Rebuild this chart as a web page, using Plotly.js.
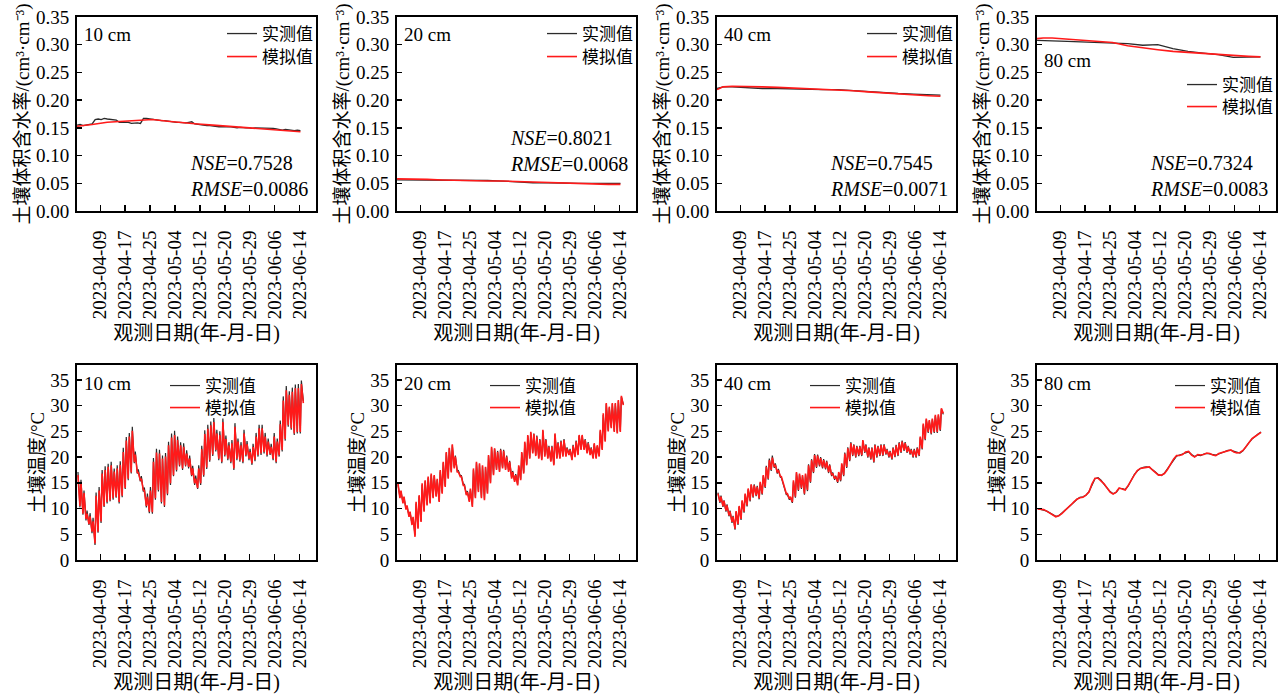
<!DOCTYPE html>
<html><head><meta charset="utf-8">
<script src="https://cdn.plot.ly/plotly-3.0.1.min.js"></script>
<style>html,body{margin:0;padding:0;background:#fff}</style>
</head><body>
<div id="chart" style="width:1282px;height:695px"></div>
<script>
// ---------------- data ----------------
const depths = ['10 cm', '20 cm', '40 cm', '80 cm'];
const obsName = '实测值';
const simName = '模拟值';
const tickLabels = ['2023-04-09','2023-04-17','2023-04-25','2023-05-04','2023-05-12','2023-05-20','2023-05-29','2023-06-06','2023-06-14'];
const nseVals = ['0.7528', '0.8021', '0.7545', '0.7324'];
const rmseVals = ['0.0086', '0.0068', '0.0071', '0.0083'];
const startDate = '2023-04-01';

// soil moisture (cm3/cm3), day offsets from 2023-04-01
const moistDays = [0,2,5,10,15,20,25,30,35,40,45,50,55,60,65,70,74];
const moistObs10 = [0.155,0.156,0.154,0.155,0.156,0.157,0.165,0.166,0.165,0.167,0.166,0.165,0.165,0.164,0.160,0.160,0.159,0.160,0.158,0.159,0.159,0.158,0.167,0.167,0.166,0.166,0.165,0.164,0.163,0.163,0.162,0.161,0.161,0.160,0.160,0.159,0.159,0.160,0.161,0.157,0.156,0.155,0.155,0.154,0.154,0.153,0.153,0.152,0.152,0.152,0.153,0.152,0.151,0.150,0.151,0.150,0.150,0.150,0.149,0.150,0.150,0.149,0.149,0.150,0.150,0.149,0.148,0.147,0.146,0.147,0.146,0.146,0.145,0.146,0.145];
const moistSim10 = [0.153,0.154,0.156,0.160,0.162,0.164,0.165,0.162,0.159,0.157,0.155,0.153,0.151,0.149,0.147,0.145,0.143];
const moistObs20 = [0.056,0.056,0.056,0.056,0.055,0.055,0.056,0.055,0.054,0.052,0.051,0.051,0.050,0.050,0.050,0.050,0.050];
const moistSim20 = [0.058,0.058,0.058,0.057,0.056,0.055,0.055,0.054,0.054,0.053,0.052,0.051,0.050,0.050,0.049,0.048,0.048];
const moistObs40 = [0.221,0.224,0.224,0.222,0.221,0.221,0.220,0.219,0.219,0.219,0.217,0.215,0.213,0.212,0.211,0.210,0.209];
const moistSim40 = [0.219,0.224,0.225,0.225,0.224,0.223,0.222,0.220,0.219,0.218,0.217,0.215,0.213,0.212,0.210,0.208,0.207];
const moistObs80 = [0.308,0.308,0.307,0.306,0.305,0.304,0.304,0.302,0.299,0.300,0.293,0.288,0.285,0.282,0.277,0.277,0.278];
const moistSim80 = [0.311,0.312,0.312,0.310,0.308,0.307,0.304,0.298,0.294,0.291,0.288,0.286,0.285,0.283,0.281,0.279,0.278];

// soil temperature (°C): daily maxima and following minima, 2023-04-01 .. 2023-06-14
const tempSimMax10 = [16.5,15,13,9,8.5,7.5,12.5,13.5,16.8,17.5,18.1,18.4,17.2,17.8,18.5,21,23.2,24,25.1,20.5,17,15.8,13.5,12.3,13.5,19.1,20.9,20.7,19.7,20.1,22.3,23.8,24.3,23.3,22.3,22,20.7,19.7,17.8,15.8,17.8,21.5,24.5,25.5,26.2,26.8,24.6,24.3,26.8,23.5,22.3,22.7,25.9,23,22.3,24.6,22.5,21,22,24,25.6,25.6,24,23,22,24,23,26.4,31,33,32.1,32.7,33.4,33.4,34.2];
const tempSimMin10 = [10.5,9,8,7,5.5,3.2,5.5,7.5,10.5,11.3,11.6,12,12.3,11.3,12.5,14,15.8,17,19,17,15.5,13.6,10.5,9.4,9.3,12,13.6,11.3,10.6,12.9,14.9,16.5,17.5,18.4,17.8,18.4,18.1,16.5,14.9,14,14.9,16.5,18,19.4,20.5,21.4,19.7,19.1,20.4,19.7,19.1,17.8,19.7,19.4,19.1,20.4,19.7,18.8,19.5,20.4,20.7,21,20.4,20.7,19.7,19.1,20.4,21.4,23.5,26.2,25.6,24.6,24.9,24.9,30.5];
const tempObsMax10 = [17.1,15.6,13.5,9.6,9.1,8.2,13.1,14.2,17.5,18.2,18.7,19.1,17.8,18.4,19.2,21.8,23.9,24.7,25.9,21.1,17.6,16.3,14.1,12.9,14.2,19.8,21.6,21.4,20.3,20.8,23,24.6,25.1,24,22.9,22.7,21.3,20.3,18.3,16.4,18.4,22.2,25.2,26.3,26.9,27.6,25.3,25,27.5,24.2,22.9,23.3,26.6,23.6,22.9,25.3,23.1,21.6,22.6,24.7,26.3,26.3,24.7,23.6,22.6,24.7,23.6,27.1,31.8,33.8,32.8,33.5,34.1,34.2,34.9];
const tempObsMin10 = [10.2,8.8,7.7,6.8,5.2,2.9,5.3,7.2,10.3,11,11.4,11.7,12.1,11,12.2,13.8,15.5,16.8,18.8,16.8,15.3,13.3,10.2,9.1,9,11.7,13.3,11,10.3,12.6,14.6,16.3,17.2,18.2,17.5,18.2,17.8,16.3,14.6,13.8,14.6,16.2,17.7,19.1,20.2,21.1,19.4,18.8,20.1,19.4,18.8,17.5,19.4,19.1,18.8,20.1,19.4,18.5,19.2,20.1,20.4,20.7,20.1,20.4,19.4,18.8,20.1,21.1,23.2,25.9,25.3,24.3,24.6,24.6,30.9];

const tempSimMax20 = [14.9,13.5,12.3,10.6,9.4,8.4,11.3,12.6,14.9,15.5,16.2,16.8,16.5,15.8,17.5,19.1,21,21.8,22.5,20.1,17.1,16.2,14.5,13.2,13.9,17.8,19.1,18.8,18.4,18.1,20.4,22,21.7,21,21.4,21.2,20.1,19.1,17.1,16.5,18.4,21,23,24.3,24.9,24.5,24,23.3,25.3,23.3,22,22,24.6,22.7,23,23.3,21.7,21.4,22.2,23,24.3,24.3,23.3,22.7,21.7,22.7,22.3,25.3,28.5,30.5,29.8,30.5,30.5,31.1,31.9];
const tempSimMin20 = [12,11,9.8,8.4,6.8,4.5,6.1,7.4,9.4,10.6,11,12,12.3,11.3,12.9,14.2,15.8,17,17.8,17.1,16.2,14.5,12.6,11.3,10.3,12,13.2,12,11.6,12.9,14.9,16.5,17.5,17.1,17.8,17.5,17.1,15.8,15.2,14.5,15.5,16.8,18.4,19.7,20.7,20.2,19.7,19.4,20.1,19.7,19.1,18.4,19.7,19.7,20.1,20.1,20.4,19.4,20,20.4,21.4,21.4,20.7,20.4,19.7,19.7,20.1,21.4,23,25,25.6,24.9,24.6,24.9,30.1];
const tempObsMax20 = [14.7,13.3,12.1,10.4,9.3,8.2,11.0,12.4,14.6,15.3,16.0,16.5,16.3,15.6,17.2,18.9,20.8,21.7,22.3,20.3,17.4,16.4,14.7,13.4,13.7,17.5,18.9,18.6,18.2,18.0,20.2,21.8,21.6,21.2,21.6,21.4,20.3,19.3,17.3,16.7,18.2,20.8,22.8,24.1,24.7,24.6,24.2,23.5,25.1,23.5,22.2,22.2,24.4,22.9,23.2,23.5,21.9,21.6,22.4,23.2,24.1,24.1,23.5,22.9,21.9,22.5,22.1,25.0,28.2,30.3,29.6,30.3,30.3,30.9,31.7];
const tempObsMin20 = [12.2,11.2,10.0,8.6,7.0,4.8,6.3,7.6,9.6,10.8,11.2,12.2,12.5,11.5,13.1,14.4,16.0,17.2,18.0,17.3,16.4,14.7,12.8,11.5,10.5,12.2,13.4,12.2,11.8,13.1,15.1,16.7,17.7,17.3,18.0,17.7,17.3,16.0,15.4,14.7,15.7,17.0,18.6,19.9,20.9,20.4,19.9,19.6,20.3,19.9,19.3,18.6,19.9,19.9,20.3,20.3,20.6,19.6,20.2,20.6,21.6,21.6,20.9,20.6,19.9,19.9,20.3,21.6,23.2,25.2,25.8,25.1,24.8,25.1,30.3];

const tempSimMax40 = [12.9,12.3,11.5,10.6,9.4,8.4,9.5,10.5,11.6,12.9,13.9,14.7,14.5,14.2,15.2,16.5,18.1,19.4,19.9,18.5,17.5,16.2,14.2,12.9,12.3,15.5,17.1,16.8,16.5,16.8,18.4,19.4,20.4,20.3,19.8,19.4,19.1,18.4,16.8,16.2,17.1,18.8,20.7,21.7,22.7,22.3,22,22,23.3,22.3,21.7,21.7,22.3,22,22.3,22.3,21.4,21,21.7,22.2,22.7,23,22.7,22,21.4,21.4,21.7,24,26.5,27.5,27.2,27.5,28.2,28.3,29.5];
const tempSimMin40 = [11.3,10.5,9.6,8.7,7.4,6.1,7,8,9.4,10.6,11.6,12.3,12.6,12,12.9,14.2,15.8,17.5,18.1,17,16.3,14.9,12.9,11.9,11.3,12.3,13.6,14,12.9,13.6,15.2,17.1,18.1,18.4,18,17.8,17.1,16.5,15.8,15.2,15.5,16.5,18.1,19.4,20.4,20.1,20.4,20.4,21,20.1,19.7,19.1,20.1,20.4,20.4,20.7,20.1,19.7,20.2,20.4,21,21.4,21,20.7,20.1,20.1,20.4,21.7,23.5,24.9,24.6,24.9,24.9,25.3,28.5];
const tempObsMax40 = [13.1,12.5,11.6,10.8,9.6,8.6,9.3,10.3,11.4,12.7,13.7,14.6,14.7,14.4,15.0,16.3,18.3,19.7,20.3,18.8,17.7,16.0,14.0,12.7,12.1,15.2,16.9,16.6,16.3,16.6,18.6,19.6,20.6,20.5,20.0,19.6,19.3,18.6,17.0,16.4,16.9,18.6,20.9,21.9,22.9,22.5,22.2,22.2,23.1,22.5,21.9,21.9,22.5,22.2,22.5,22.5,21.6,21.2,21.9,22.4,22.9,23.2,22.9,22.2,21.6,21.6,21.9,23.8,26.3,27.3,27.0,27.3,28.0,28.1,29.3];
const tempObsMin40 = [11.1,10.3,9.4,8.5,7.2,5.9,6.8,7.8,9.2,10.4,11.4,12.1,12.4,11.8,12.7,14.0,15.6,17.3,17.9,16.8,16.1,14.7,12.7,11.7,11.1,12.1,13.4,13.8,12.7,13.4,15.0,16.9,17.9,18.2,17.8,17.6,16.9,16.3,15.6,15.0,15.3,16.3,17.9,19.2,20.2,19.9,20.2,20.2,20.8,19.9,19.5,18.9,19.9,20.2,20.2,20.5,19.9,19.5,20.0,20.2,20.8,21.2,20.8,20.5,19.9,19.9,20.2,21.5,23.3,24.7,24.4,24.7,24.7,25.1,28.3];

// 80 cm: daily values
const tempSim80 = [9.9,9.9,9.8,9.5,9.1,8.7,8.4,8.6,9.0,9.6,10.1,10.7,11.3,11.8,12.1,12.2,12.6,13.2,14.8,15.9,15.9,15.4,14.8,14.0,13.2,12.8,13.2,14.0,13.8,13.6,14.5,15.6,16.5,17.4,17.8,17.9,18.0,18.1,17.5,17.0,16.5,16.5,16.8,17.6,18.7,19.6,20.3,20.3,20.5,21.0,21.1,20.4,20.0,20.5,20.4,20.5,20.8,20.7,20.4,20.3,20.7,20.9,21.0,21.2,21.4,21.0,20.8,20.9,21.3,22.0,22.9,23.6,24.0,24.4,24.8];
const tempObs80 = [10.0,9.9,9.7,9.5,9.2,8.8,8.5,8.6,9.1,9.6,10.2,10.7,11.2,11.8,12.2,12.3,12.6,13.3,14.7,15.8,16.0,15.5,14.7,13.9,13.3,12.9,13.1,13.9,13.9,13.7,14.4,15.5,16.6,17.3,17.8,18.0,18.1,18.0,17.6,17.1,16.6,16.4,16.9,17.7,18.6,19.5,20.2,20.4,20.6,20.9,21.0,20.5,20.1,20.4,20.3,20.6,20.7,20.6,20.5,20.4,20.6,20.8,21.1,21.3,21.3,21.1,20.9,20.8,21.2,22.1,22.8,23.5,24.1,24.5,24.9];

// ---------------- helpers ----------------
const DAY = 86400000;
const t0 = Date.parse(startDate + 'T00:00:00Z');
const dayMs = d => t0 + d * DAY;
function dailyX(n, frac) { const a = []; for (let i = 0; i < n; i++) a.push(dayMs(i + frac)); return a; }
function zigzag(maxArr, minArr) {
  const x = [], y = [];
  for (let i = 0; i < maxArr.length; i++) {
    x.push(dayMs(i + 0.6)); y.push(maxArr[i]);
    x.push(dayMs(i + 1.25)); y.push(minArr[i]);
  }
  return {x, y};
}

const OBS_C = '#2b2b2b', SIM_C = '#ff1a1a';
const FONT = 'Liberation Serif, "Times New Roman", "Noto Sans CJK SC", serif';
const CJK = 'Liberation Serif, "Noto Sans CJK SC", serif';

// geometry (pixels)
const W = 1282, H = 695;
const colLeft = [77, 397, 717, 1037], plotW = 239;
const rowBox = [{top: 17, bottom: 211}, {top: 365, bottom: 560}];

const tickBase = Date.parse('2023-04-09T00:00:00Z');
const tickVals = tickLabels.map((_, k) => tickBase + k * 8.25 * DAY);
const xRange = [tickBase - 7.72 * DAY, tickBase + 71.45 * DAY];

const traces = [];
const layout = {
  width: W, height: H,
  margin: {l: 0, r: 0, t: 0, b: 0},
  paper_bgcolor: '#fff', plot_bgcolor: '#fff',
  font: {family: FONT, size: 19, color: '#000'},
  showlegend: true,
  annotations: [],
  hovermode: false
};

const moistObs = [moistObs10, moistObs20, moistObs40, moistObs80];
const moistSim = [moistSim10, moistSim20, moistSim40, moistSim80];
const tMax = [[tempObsMax10, tempSimMax10], [tempObsMax20, tempSimMax20], [tempObsMax40, tempSimMax40]];
const tMin = [[tempObsMin10, tempSimMin10], [tempObsMin20, tempSimMin20], [tempObsMin40, tempSimMin40]];

function addLegend(name, leftPx, centerPx) {
  layout[name] = {
    x: leftPx / W, xanchor: 'left',
    y: (H - centerPx) / H, yanchor: 'middle',
    bgcolor: 'rgba(0,0,0,0)', borderwidth: 0,
    font: {family: CJK, size: 17, color: '#000'},
    itemwidth: 30, tracegroupgap: 0
  };
}

for (let r = 0; r < 2; r++) {
  for (let c = 0; c < 4; c++) {
    const n = r * 4 + c + 1;
    const xa = 'x' + n, ya = 'y' + n;
    const lgObs = 'legend' + (2 * n - 1 === 1 ? '' : 2 * n - 1);
    const lgSim = 'legend' + (2 * n);
    let obs, sim;
    if (r === 0) {
      const ox = moistObs[c].length === moistDays.length ? moistDays.map(d => dayMs(d + 0.3)) : dailyX(moistObs[c].length, 0.3);
      obs = {x: ox, y: moistObs[c]};
      sim = {x: moistDays.map(d => dayMs(d + 0.3)), y: moistSim[c]};
    } else if (c < 3) {
      obs = zigzag(tMax[c][0], tMin[c][0]);
      sim = zigzag(tMax[c][1], tMin[c][1]);
    } else {
      obs = {x: dailyX(tempObs80.length, 0.5), y: tempObs80};
      sim = {x: dailyX(tempSim80.length, 0.5), y: tempSim80};
    }
    traces.push({type: 'scatter', mode: 'lines', x: obs.x, y: obs.y, xaxis: xa, yaxis: ya, name: obsName,
      legend: lgObs, showlegend: true, line: {color: OBS_C, width: r === 0 ? 1.3 : 1.2}});
    traces.push({type: 'scatter', mode: 'lines', x: sim.x, y: sim.y, xaxis: xa, yaxis: ya, name: simName,
      legend: lgSim, showlegend: true, line: {color: SIM_C, width: 1.6}});

    const box = rowBox[r];
    const x0 = colLeft[c] / W, x1 = (colLeft[c] + plotW) / W;
    const yd = [(H - box.bottom) / H, (H - box.top) / H];
    layout['xaxis' + n] = {
      domain: [x0, x1], anchor: ya, type: 'date', range: xRange,
      tickmode: 'array', tickvals: tickVals, ticktext: tickLabels, tickangle: -90,
      ticks: 'inside', ticklen: 6, tickwidth: 1.5, tickcolor: '#000',
      showline: true, linecolor: '#000', linewidth: 2, mirror: true,
      showgrid: false, zeroline: false, ticklabelstandoff: 10,
      tickfont: {family: FONT, size: 19, color: '#000'},
      title: {text: '观测日期(年-月-日)', font: {family: CJK, size: 20, color: '#000'}, standoff: 8}
    };
    const yaxis = {
      domain: yd, anchor: xa,
      ticks: 'inside', ticklen: 5, tickwidth: 1.5, tickcolor: '#000',
      showline: true, linecolor: '#000', linewidth: 2, mirror: true,
      showgrid: false, zeroline: false, ticklabelstandoff: 2,
      tickfont: {family: FONT, size: 19, color: '#000'}
    };
    if (r === 0) {
      Object.assign(yaxis, {range: [0, 0.35], dtick: 0.05, tick0: 0, tickformat: '.2f',
        title: {text: '土壤体积含水率/(cm³·cm⁻³)', font: {family: CJK, size: 19, color: '#000'}, standoff: 1}});
    } else {
      Object.assign(yaxis, {range: [0, 37.9], dtick: 5, tick0: 0,
        title: {text: '土壤温度/°C', font: {family: CJK, size: 19, color: '#000'}, standoff: 1}});
    }
    layout['yaxis' + n] = yaxis;

    // legends (one entry each)
    let legLeft, legY1, legY2;
    if (r === 0) {
      legLeft = colLeft[c] + 145;
      if (c === 3) { legY1 = 85; legY2 = 107; } else { legY1 = 34; legY2 = 57; }
    } else {
      legLeft = colLeft[c] + (c === 3 ? 133 : 88);
      legY1 = 386; legY2 = 408;
    }
    addLegend(lgObs, legLeft, legY1);
    addLegend(lgSim, legLeft, legY2);

    // depth label
    let depthY;
    if (r === 0) depthY = c === 3 ? 60 : 34; else depthY = 383;
    layout.annotations.push({
      xref: xa + ' domain', yref: ya + ' domain', x: 6 / plotW, y: (box.bottom - depthY) / (box.bottom - box.top),
      xanchor: 'left', yanchor: 'middle', showarrow: false, borderpad: 0,
      text: depths[c], font: {family: FONT, size: 19, color: '#000'}
    });
    // NSE / RMSE
    if (r === 0) {
      const cy = c === 1 ? 151 : 176;
      layout.annotations.push({
        xref: xa + ' domain', yref: ya + ' domain', x: 112 / plotW, y: (box.bottom - cy) / (box.bottom - box.top),
        xanchor: 'left', yanchor: 'middle', align: 'left', showarrow: false, borderpad: 0,
        text: '<i>NSE</i>=' + nseVals[c] + '<br><i>RMSE</i>=' + rmseVals[c],
        font: {family: FONT, size: 20, color: '#000'}
      });
    }
  }
}

Plotly.newPlot('chart', traces, layout, {staticPlot: true, displayModeBar: false});
</script>
</body></html>
